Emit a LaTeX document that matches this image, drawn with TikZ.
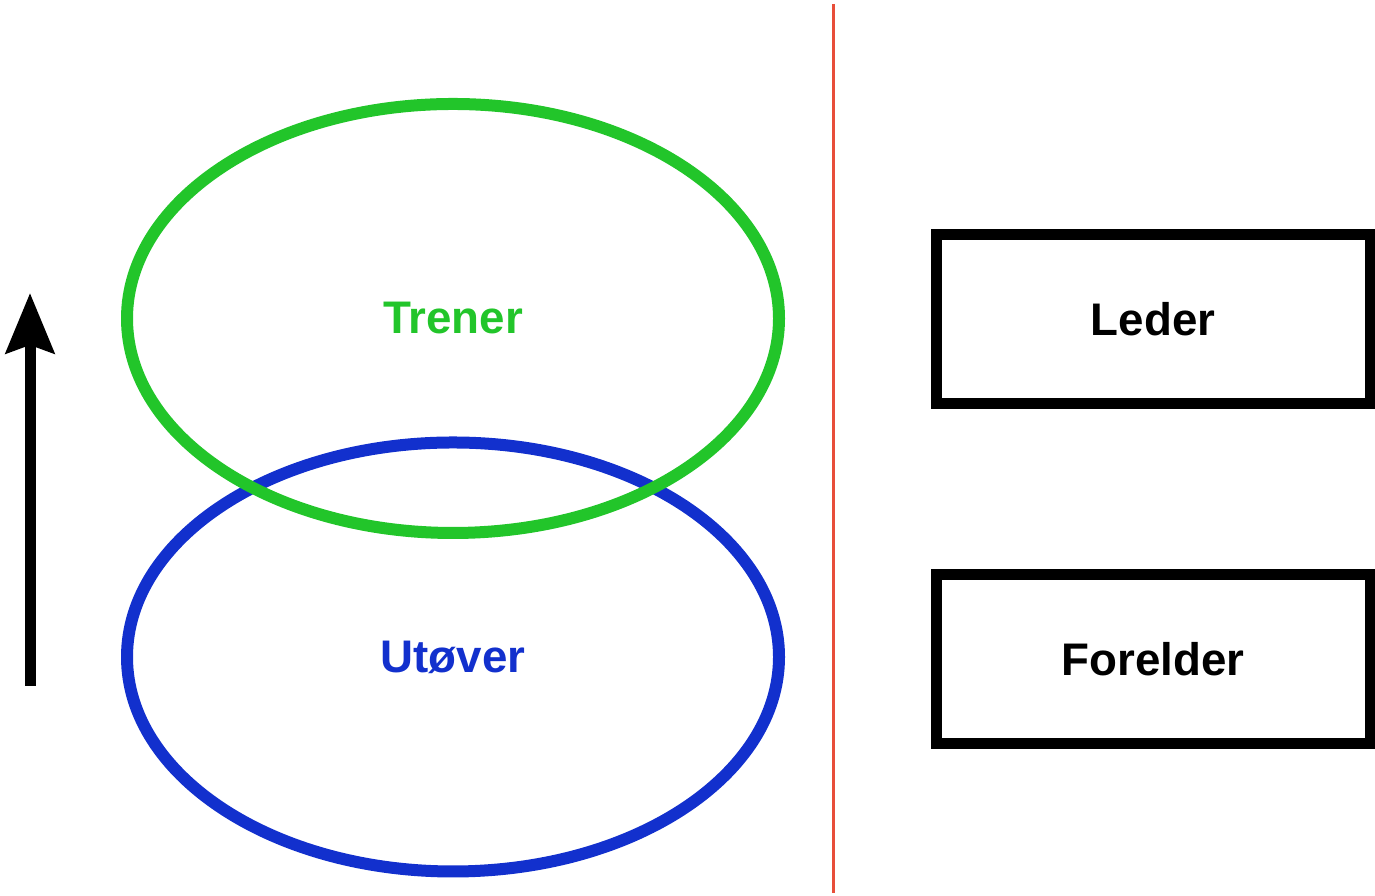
\documentclass[tikz,border=0pt]{standalone}
\usepackage{fontspec}
\setmainfont{Liberation Sans}
\usepackage{xcolor}
\usepackage{tikz}
\usetikzlibrary{positioning, arrows.meta, shapes.geometric}

\definecolor{trenergreen}{RGB}{34,197,42}
\definecolor{utoverblue}{RGB}{18,48,205}
\definecolor{splitred}{RGB}{232,78,58}

\begin{document}
\begin{tikzpicture}[
    role/.style={ellipse, line width=0.12cm, minimum width=6.52cm, minimum height=4.29cm, font=\fontsize{13}{15}\selectfont\bfseries},
    party/.style={rectangle, draw=black, line width=0.11cm, minimum width=4.34cm, minimum height=1.69cm, font=\fontsize{13}{15}\selectfont\bfseries}
]
    \useasboundingbox (0,0) rectangle (13.75,8.96);

    % Ellipses
    \node[role, draw=utoverblue, text=utoverblue] (utover) at (4.53,2.39) {Utøver};
    \node[role, draw=trenergreen, text=trenergreen] (trener) at (4.53,5.775) {Trener};

    % Arrow upwards
    \coordinate (arrowfoot) at (0.30,2.10);
    \coordinate (arrowtip) at (0.30,6.03);
    \draw[line width=0.11cm, -{Stealth[length=0.6cm, width=0.48cm, inset=0.08cm]}] (arrowfoot) -- (arrowtip);

    % Dividing line
    \coordinate (splittop) at (8.33,8.92);
    \coordinate (splitbottom) at (8.33,0.03);
    \draw[splitred, line width=0.03cm] (splittop) -- (splitbottom);

    % Boxes
    \node[party] (leder) at (11.53,5.77) {Leder};
    \node[party] (forelder) at (11.53,2.37) {Forelder};

\end{tikzpicture}
\end{document}
